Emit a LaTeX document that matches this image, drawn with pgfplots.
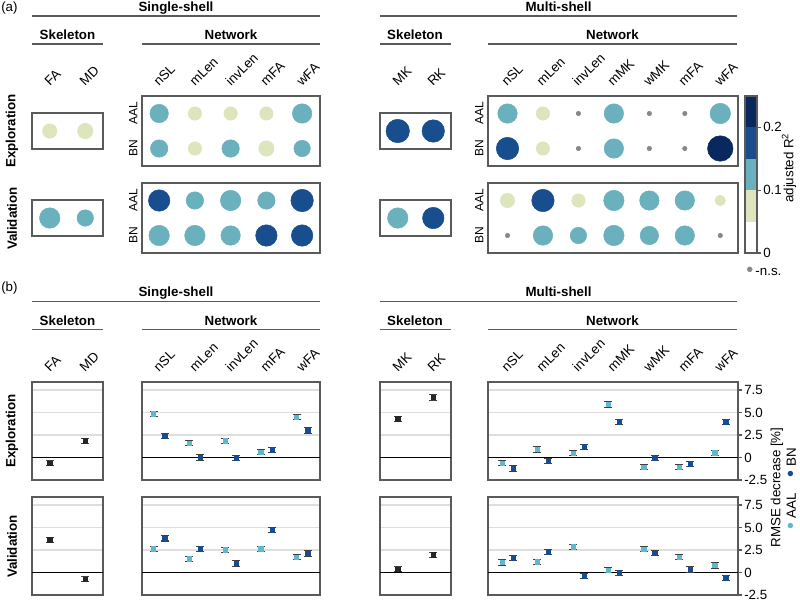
\documentclass[border=0pt]{standalone}
\usepackage{fontspec}
\setmainfont{Liberation Sans}
\usepackage{pgfplots}
\pgfplotsset{compat=1.18}
\usepackage{pgfplotstable}
\definecolor{cNS}{RGB}{135,135,140}
\definecolor{cY}{RGB}{221,229,189}
\definecolor{cT}{RGB}{107,176,189}
\definecolor{cB}{RGB}{24,78,142}
\definecolor{cD}{RGB}{8,40,94}
\definecolor{cAAL}{RGB}{95,185,204}
\definecolor{cBN}{RGB}{22,76,145}
\definecolor{frame}{RGB}{90,90,90}
\newcommand\fn{\fontsize{10}{12}\selectfont}
\newcommand\fs{\fontsize{9}{11}\selectfont}
\newcommand\fh{\bfseries\fontsize{10}{12}\selectfont}
\newcommand\bul[1]{{\color{#1}\fontsize{15}{12}\selectfont\raisebox{-0.9pt}{•}}}

\pgfplotsset{
 base/.style={scale only axis, anchor=north west,
   axis line style={draw=frame, line width=1pt},
   xtick=\empty, ytick=\empty, tick label style={font=\fn}},
 dots/.style={base, ymin=-0.5, ymax=0.5, xmin=-0.5, xmax=1.5,
   width=53.25pt, height=27pt, clip=false},
 net/.style={base, ymin=-0.5, ymax=1.5, height=52.5pt, ytick={0,1},
   yticklabels={BN,AAL}, yticklabel style={rotate=90, anchor=south, font=\fs},
   major tick length=0pt, clip=false},
 rdots/.style={scatter, only marks, mark=*, scatter src=explicit symbolic,
   scatter/classes={n={fill=cNS,draw=cNS}, y={fill=cY,draw=cY},
     t={fill=cT,draw=cT}, b={fill=cB,draw=cB}, d={fill=cD,draw=cD}},
   visualization depends on={\thisrow{r}\as\rr},
   scatter/@pre marker code/.append style={/tikz/mark size={0.75*\rr-0.2}}},
 rm/.style={base, ymin=-2.5, ymax=8.39, height=73.5pt, ytick={2.5,5,7.5},
   yticklabels={}, major tick length=0pt, ymajorgrids,
   grid style={draw=black!13, line width=0.8pt}},
 rmr/.style={rm, ytick={-2.5,0,2.5,5,7.5}, yticklabels={-2.5,0,2.5,5.0,7.5},
   ytick pos=right, yticklabel pos=right, tick align=outside,
   major tick length=3pt, tick style={draw=frame, line width=0.8pt},
   yticklabel style={inner sep=1.5pt}},
 ep/.style={only marks, mark=square*, mark size=1.6pt,
   error bars/y dir=both, error bars/y explicit,
   error bars/error bar style={black!75, line width=0.8pt},
   error bars/error mark options={rotate=90, mark size=3pt, line width=0.8pt, black!75}},
 zl/.style={black, line width=0.7pt, no marks, forget plot},
}

\begin{document}
\begin{tikzpicture}
\path[use as bounding box] (0,0) rectangle (600pt,-450.75pt);

% ================= PANEL (a) =================
\begin{axis}[dots, at={(24pt,-84.75pt)}]
\addplot[rdots] table[x=x,y=y,meta=c,row sep=\\] {x y r c\\ 0 0 7.5 y\\ 1 0 8 y\\};
\end{axis}
\begin{axis}[net, at={(106.5pt,-72pt)}, width=133.5pt, xmin=-0.48, xmax=4.5]
\addplot[rdots] table[x=x,y=y,meta=c,row sep=\\] {x y r c\\
0 1 9.5 t\\ 1 1 7 y\\ 2 1 7 y\\ 3 1 7 y\\ 4 1 10 t\\
0 0 9 t\\ 1 0 7 y\\ 2 0 9 t\\ 3 0 8 y\\ 4 0 8.5 t\\};
\end{axis}
\begin{axis}[dots, at={(24pt,-150pt)}]
\addplot[rdots] table[x=x,y=y,meta=c,row sep=\\] {x y r c\\ 0 0 10.5 t\\ 1 0 8.5 t\\};
\end{axis}
\begin{axis}[net, at={(106.5pt,-137.25pt)}, width=133.5pt, xmin=-0.48, xmax=4.5]
\addplot[rdots] table[x=x,y=y,meta=c,row sep=\\] {x y r c\\
0 1 11 b\\ 1 1 9 t\\ 2 1 10.5 t\\ 3 1 9 t\\ 4 1 11.5 b\\
0 0 10.5 t\\ 1 0 10.5 t\\ 2 0 10 t\\ 3 0 11 b\\ 4 0 11 b\\};
\end{axis}
\begin{axis}[dots, at={(285pt,-84.75pt)}]
\addplot[rdots] table[x=x,y=y,meta=c,row sep=\\] {x y r c\\ 0 0 12 b\\ 1 0 11.5 b\\};
\end{axis}
\begin{axis}[net, at={(366pt,-72pt)}, width=187.5pt, xmin=-0.55, xmax=6.5]
\addplot[rdots] table[x=x,y=y,meta=c,row sep=\\] {x y r c\\
0 1 10 t\\ 1 1 7 y\\ 2 1 2.5 n\\ 3 1 10 t\\ 4 1 2.5 n\\ 5 1 2.5 n\\ 6 1 10.5 t\\
0 0 11.5 b\\ 1 0 7 y\\ 2 0 2.5 n\\ 3 0 10 t\\ 4 0 2.5 n\\ 5 0 2.5 n\\ 6 0 13 d\\};
\end{axis}
\begin{axis}[dots, at={(285pt,-150pt)}]
\addplot[rdots] table[x=x,y=y,meta=c,row sep=\\] {x y r c\\ 0 0 10.5 t\\ 1 0 11 b\\};
\end{axis}
\begin{axis}[net, at={(366pt,-137.25pt)}, width=187.5pt, xmin=-0.55, xmax=6.5]
\addplot[rdots] table[x=x,y=y,meta=c,row sep=\\] {x y r c\\
0 1 7.5 y\\ 1 1 11.5 b\\ 2 1 7 y\\ 3 1 10.5 t\\ 4 1 10 t\\ 5 1 10 t\\ 6 1 5.5 y\\
0 0 2.5 n\\ 1 0 10 t\\ 2 0 8.5 t\\ 3 0 10.5 t\\ 4 0 9.5 t\\ 5 0 10 t\\ 6 0 2.5 n\\};
\end{axis}
% colour bar
\begin{axis}[base, at={(558.75pt,-72pt)}, width=9pt, height=117.75pt,
  xmin=0, xmax=1, ymin=0, ymax=0.25, ytick={0,0.1,0.2}, yticklabels={0,0.1,0.2},
  ytick pos=right, yticklabel pos=right, tick align=outside, major tick length=3pt,
  tick style={draw=frame, line width=0.8pt}, yticklabel style={inner sep=1.5pt}, axis on top]
\addplot[fill=cY, draw=none] coordinates {(0,0.05) (1,0.05) (1,0.1) (0,0.1)} -- cycle;
\addplot[fill=cT, draw=none] coordinates {(0,0.1) (1,0.1) (1,0.15) (0,0.15)} -- cycle;
\addplot[fill=cB, draw=none] coordinates {(0,0.15) (1,0.15) (1,0.2) (0,0.2)} -- cycle;
\addplot[fill=cD, draw=none] coordinates {(0,0.2) (1,0.2) (1,0.25) (0,0.25)} -- cycle;
\end{axis}

% ================= PANEL (b) =================
\begin{axis}[rm, at={(24pt,-286.5pt)}, width=53.25pt, xmin=-0.5, xmax=1.5]
\addplot[zl] coordinates {(-1,0) (9,0)};
\addplot[black!85, ep] table[x=x,y=y,y error=e,row sep=\\] {x y e\\ 0 -0.6 0.3\\ 1 1.85 0.3\\};
\end{axis}
\begin{axis}[rm, at={(106.5pt,-286.5pt)}, width=133.5pt, xmin=-0.48, xmax=4.5]
\addplot[zl] coordinates {(-1,0) (9,0)};
\addplot[cAAL, ep] table[x=x,y=y,y error=e,row sep=\\] {x y e\\
-0.155 4.85 0.3\\ 0.845 1.6 0.3\\ 1.845 1.85 0.3\\ 2.845 0.6 0.3\\ 3.845 4.48 0.3\\};
\addplot[cBN, ep] table[x=x,y=y,y error=e,row sep=\\] {x y e\\
0.155 2.37 0.3\\ 1.155 0.0 0.3\\ 2.155 -0.07 0.3\\ 3.155 0.85 0.3\\ 4.155 3.0 0.3\\};
\end{axis}
\begin{axis}[rm, at={(24pt,-372.75pt)}, width=53.25pt, xmin=-0.5, xmax=1.5]
\addplot[zl] coordinates {(-1,0) (9,0)};
\addplot[black!85, ep] table[x=x,y=y,y error=e,row sep=\\] {x y e\\ 0 3.63 0.3\\ 1 -0.74 0.3\\};
\end{axis}
\begin{axis}[rm, at={(106.5pt,-372.75pt)}, width=133.5pt, xmin=-0.48, xmax=4.5]
\addplot[zl] coordinates {(-1,0) (9,0)};
\addplot[cAAL, ep] table[x=x,y=y,y error=e,row sep=\\] {x y e\\
-0.155 2.63 0.3\\ 0.845 1.52 0.3\\ 1.845 2.52 0.3\\ 2.845 2.63 0.3\\ 3.845 1.7 0.3\\};
\addplot[cBN, ep] table[x=x,y=y,y error=e,row sep=\\] {x y e\\
0.155 3.8 0.3\\ 1.155 2.63 0.3\\ 2.155 1.0 0.3\\ 3.155 4.7 0.3\\ 4.155 2.1 0.3\\};
\end{axis}
\begin{axis}[rm, at={(285pt,-286.5pt)}, width=53.25pt, xmin=-0.5, xmax=1.5]
\addplot[zl] coordinates {(-1,0) (9,0)};
\addplot[black!85, ep] table[x=x,y=y,y error=e,row sep=\\] {x y e\\ 0 4.3 0.3\\ 1 6.67 0.3\\};
\end{axis}
\begin{axis}[rmr, at={(366pt,-286.5pt)}, width=187.5pt, xmin=-0.55, xmax=6.5]
\addplot[zl] coordinates {(-1,0) (9,0)};
\addplot[cAAL, ep] table[x=x,y=y,y error=e,row sep=\\] {x y e\\
-0.155 -0.6 0.3\\ 0.845 0.89 0.3\\ 1.845 0.48 0.3\\ 2.845 5.89 0.3\\ 3.845 -1.07 0.3\\ 4.845 -1.07 0.3\\ 5.845 0.52 0.3\\};
\addplot[cBN, ep] table[x=x,y=y,y error=e,row sep=\\] {x y e\\
0.155 -1.22 0.3\\ 1.155 -0.4 0.3\\ 2.155 1.19 0.3\\ 3.155 3.96 0.3\\ 4.155 -0.07 0.3\\ 5.155 -0.7 0.3\\ 6.155 3.96 0.3\\};
\end{axis}
\begin{axis}[rm, at={(285pt,-372.75pt)}, width=53.25pt, xmin=-0.5, xmax=1.5]
\addplot[zl] coordinates {(-1,0) (9,0)};
\addplot[black!85, ep] table[x=x,y=y,y error=e,row sep=\\] {x y e\\ 0 0.37 0.3\\ 1 1.97 0.3\\};
\end{axis}
\begin{axis}[rmr, at={(366pt,-372.75pt)}, width=187.5pt, xmin=-0.55, xmax=6.5]
\addplot[zl] coordinates {(-1,0) (9,0)};
\addplot[cAAL, ep] table[x=x,y=y,y error=e,row sep=\\] {x y e\\
-0.155 1.11 0.3\\ 0.845 1.19 0.3\\ 1.845 2.85 0.3\\ 2.845 0.26 0.3\\ 3.845 2.59 0.3\\ 4.845 1.7 0.3\\ 5.845 0.78 0.3\\};
\addplot[cBN, ep] table[x=x,y=y,y error=e,row sep=\\] {x y e\\
0.155 1.63 0.3\\ 1.155 2.26 0.3\\ 2.155 -0.41 0.3\\ 3.155 -0.04 0.3\\ 4.155 2.15 0.3\\ 5.155 0.33 0.3\\ 6.155 -0.59 0.3\\};
\end{axis}

% ================= TEXT AND RULES =================
\begin{scope}[x=0.75pt, y=-0.75pt]
\node[anchor=west, inner sep=0, font=\fn] at (1,8.5) {(a)};
\node[anchor=west, inner sep=0, font=\fn] at (1,288.5) {(b)};
\foreach \oy in {0,285.5} {
  \node[anchor=base, inner sep=0, font=\fh] at (176,11+\oy) {Single-shell};
  \node[anchor=base, inner sep=0, font=\fh] at (558.5,11+\oy) {Multi-shell};
  \node[anchor=base, inner sep=0, font=\fh] at (67.5,39.5+\oy) {Skeleton};
  \node[anchor=base, inner sep=0, font=\fh] at (231,39.5+\oy) {Network};
  \node[anchor=base, inner sep=0, font=\fh] at (415,39.5+\oy) {Skeleton};
  \node[anchor=base, inner sep=0, font=\fh] at (612.5,39.5+\oy) {Network};
  \draw[frame, line width=0.9pt] (32,16+\oy) -- (320,16+\oy);
  \draw[frame, line width=0.9pt] (380,16+\oy) -- (737,16+\oy);
  \draw[frame, line width=0.9pt] (32,44+\oy) -- (103,44+\oy);
  \draw[frame, line width=0.9pt] (142,44+\oy) -- (320,44+\oy);
  \draw[frame, line width=0.9pt] (380,44+\oy) -- (451,44+\oy);
  \draw[frame, line width=0.9pt] (488,44+\oy) -- (737,44+\oy);
  \foreach \cx/\tx in {50/FA,85/MD,159/nSL,195/mLen,231/invLen,266/mFA,302/wFA,398/MK,433/RK,507/nSL,542/mLen,578/invLen,613/mMK,649/wMK,684/mFA,720/wFA}
    {\node[rotate=45, anchor=base west, inner sep=0, font=\fn] at (\cx,87+\oy) {\tx};}
}
\node[rotate=90, font=\fh] at (12,131) {Exploration};
\node[rotate=90, font=\fh] at (12,218.5) {Validation};
\node[rotate=90, font=\fh] at (12,431) {Exploration};
\node[rotate=90, font=\fh] at (12,546.5) {Validation};
\node[rotate=90, inner sep=0, font=\fn] at (789,168) {adjusted R\textsuperscript{2}};
\node[anchor=base west, inner sep=0, font=\fn] at (746,275.5) {\bul{cNS}\,-n.s.};
\node[rotate=90, inner sep=0, font=\fn] at (777,487.5) {RMSE decrease [\%]};
\node[rotate=90, inner sep=0, font=\fn] at (792,488.5) {\bul{cAAL} AAL\hspace{12pt}\bul{cBN} BN};
\end{scope}
\end{tikzpicture}
\end{document}
